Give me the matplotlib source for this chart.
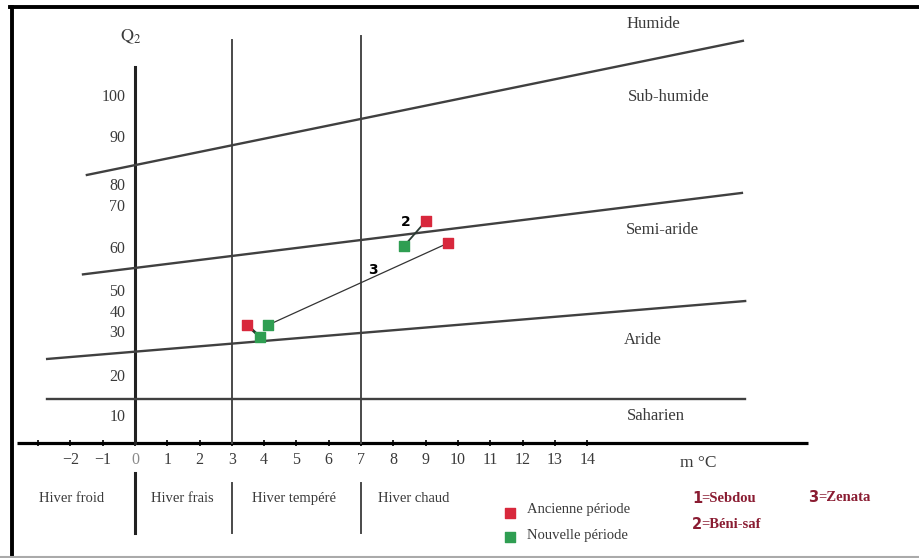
import numpy as np
import matplotlib
matplotlib.use("Agg")
import matplotlib.pyplot as plt
from matplotlib.lines import Line2D

plt.rcParams["font.family"] = ["Liberation Serif", "DejaVu Serif"]
plt.rcParams["mathtext.fontset"] = "stix"

# Emberger climagram: m (deg C) vs Q2
m_ticks = list(range(-2, 15))
q2_ticks = [10, 20, 30, 40, 50, 60, 70, 80, 90, 100]

stations = ["Sebdou", "Béni-saf", "Zenata"]
old_m = [3.47, 9.01, 9.69]     # Ancienne période
old_q2 = [34.0, 66.7, 61.4]
new_m = [3.87, 8.33, 4.12]     # Nouvelle période
new_q2 = [29.1, 60.7, 34.0]

# bioclimatic boundaries (end points, m and Q2)
bound_names = ["Humide", "Sub-humide", "Semi-aride", "Aride", "Saharien"]
bound_m = [(-1.49, 18.82), (-1.61, 18.79), (-2.72, 18.89), (-2.72, 18.89)]
bound_q2 = [(82.3, 113.7), (54.1, 76.7), (24.1, 45.7), (14.5, 14.5)]
label_m = [16.04, 16.53, 16.32, 15.73, 16.13]
label_q2 = [117.8, 100.0, 64.5, 28.4, 10.3]

winter_names = ["Hiver froid", "Hiver frais", "Hiver tempéré", "Hiver chaud"]
winter_m = [-1.95, 1.46, 4.92, 8.64]

# the hand-drawn Q2 axis is not linear: position of each graduation
scale_q = [-50, 0, 10, 20, 30, 40, 50, 60, 70, 80, 90, 100, 200]
scale_px = [573, 443, 417, 377, 333, 313, 292, 249, 207, 186, 138, 97, -313]


def fwd(q):
    return -np.interp(q, scale_q, scale_px)


def inv(v):
    return np.interp(-np.asarray(v), scale_px[::-1], scale_q[::-1])


fig = plt.figure(figsize=(9.2, 5.58), dpi=100)
ax = fig.add_axes([0, 0, 1, 1])
ax.set_yscale("function", functions=(fwd, inv))
ax.set_xlim(-135 / 32.3, (920 - 135) / 32.3)
ax.set_ylim(float(inv(-558)), float(inv(0)))
ax.axis("off")

txt = "#3a3a3a"

# axes
ax.plot([-3.65, 20.84], [0, 0], color="black", lw=2.3, solid_capstyle="butt")
ax.plot(range(-3, 15), [0] * 18, "|", color="black", ms=5, mew=1.2)
ax.plot([0, 0], [0, 107.3], color="#222222", lw=2.2)
ax.plot([3, 3], [0, 113.9], color="#4a4a4a", lw=1.4)
ax.plot([7, 7], [0, 114.9], color="#4a4a4a", lw=1.4)

for mm, qq in zip(bound_m, bound_q2):
    ax.plot(mm, qq, color="#404040", lw=1.7)
for name, x, y in zip(bound_names, label_m, label_q2):
    ax.text(x, y, name, ha="center", va="center", fontsize=12, color=txt)

for t in m_ticks:
    lab = str(t).replace("-", "\u2212")
    ax.text(t, -6.5, lab, ha="center", va="center", fontsize=11.5,
            color="#8a8a8a" if t == 0 else txt)
for q in q2_ticks:
    ax.text(-0.3, q, str(q), ha="right", va="center", fontsize=11.5, color=txt)
ax.text(-0.15, 114.6, r"$\mathrm{Q}_2$", ha="center", va="center",
        fontsize=13, color=txt)
ax.text(17.43, -7.7, "m °C", ha="center", va="center", fontsize=12.5, color=txt)

# winter types band
for name, x in zip(winter_names, winter_m):
    ax.text(x, -21.2, name, ha="center", va="center", fontsize=10.5, color=txt)
ax.plot([0, 0], [-11.5, -34.6], color="#222222", lw=2.2)
ax.plot([3, 3], [-15.4, -34.6], color="#4a4a4a", lw=1.4)
ax.plot([7, 7], [-15.4, -34.6], color="#4a4a4a", lw=1.4)

# stations
red = "#d8283c"
green = "#2f9e52"
ax.plot([old_m[0], new_m[0]], [old_q2[0], new_q2[0]], color="#1f3a2a", lw=2.0)
ax.plot([old_m[1], new_m[1]], [old_q2[1], new_q2[1]], color="#2a3a32", lw=1.3)
ax.plot([old_m[2], new_m[2]], [old_q2[2], new_q2[2]], color="#333333", lw=0.9)
ax.scatter(old_m, old_q2, marker="s", s=55, color=red, zorder=4)
ax.scatter(new_m, new_q2, marker="s", s=55, color=green, zorder=4)
ax.text(8.39, 66.4, "2", ha="center", va="center", fontsize=10,
        fontweight="bold", family="DejaVu Sans", color="black")
ax.text(7.37, 55.1, "3", ha="center", va="center", fontsize=10,
        fontweight="bold", family="DejaVu Sans", color="black")

# legend
ax.scatter([11.61], [-26.9], marker="s", s=55, color=red)
ax.scatter([11.61], [-36.2], marker="s", s=55, color=green)
ax.text(12.14, -25.4, "Ancienne période", ha="left", va="center",
        fontsize=10.5, color=txt)
ax.text(12.14, -35.4, "Nouvelle période", ha="left", va="center",
        fontsize=10.5, color=txt)

maroon = "#8a1c32"
key_pos = [(17.24, -21.5), (17.24, -31.5), (20.84, -20.8)]
for i, (name, (x, y)) in enumerate(zip(stations, key_pos)):
    ax.text(x, y, f"{i + 1}", ha="left", va="center", fontsize=10.5,
            fontweight="bold", family="DejaVu Sans", color=maroon)
    ax.text(x + 0.3, y, "=" + name, ha="left", va="center", fontsize=10.5,
            fontweight="bold", color=maroon)

# frame
fig.add_artist(Line2D([11.5 / 920, 11.5 / 920], [0, 551 / 558],
                      color="black", lw=2.8, transform=fig.transFigure))
fig.add_artist(Line2D([10 / 920, 1], [551 / 558, 551 / 558],
                      color="black", lw=2.8, transform=fig.transFigure))
fig.add_artist(Line2D([0, 1], [1.5 / 558, 1.5 / 558],
                      color="#aaaaaa", lw=1.5, transform=fig.transFigure))

fig.savefig("out.png", dpi=100)
